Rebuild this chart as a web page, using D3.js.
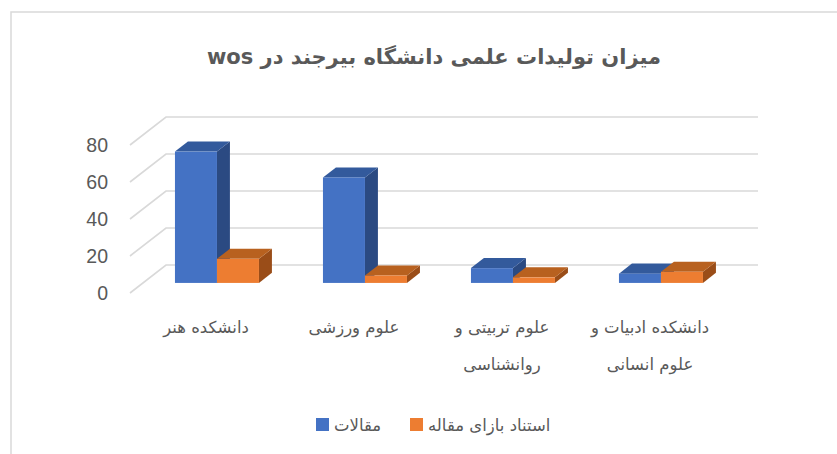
<!DOCTYPE html>
<html>
<head>
<meta charset="utf-8">
<script src="https://cdn.jsdelivr.net/npm/d3@7"></script>
<style>
  body { margin: 0; background: #fff; }
  svg { display: block; }
</style>
</head>
<body>
<script>
// 3D clustered column chart - WOS output per faculty

const categories = ["دانشکده هنر", "علوم ورزشی", "علوم تربیتی و روانشناسی", "دانشکده ادبیات و علوم انسانی"];
// how each label is wrapped on the axis
const categoryLines = [["دانشکده هنر"], ["علوم ورزشی"], ["علوم تربیتی و", "روانشناسی"], ["دانشکده ادبیات و", "علوم انسانی"]];
const seriesNames = ["مقالات", "استناد بازای مقاله"];
const articles = [71, 57, 8, 5];
const citations = [13, 4, 3, 6];
const yTicks = [0, 20, 40, 60, 80];

const width = 837, height = 454;
const grey = "#595959";
const gridColor = "#d9d9d9";

// front plane of the plot
const plot = {left: 130, right: 722, top: 145, bottom: 293};
// offset of the back wall (oblique projection)
const wall = {dx: 36, dy: -28};
const off = d => [wall.dx * d, wall.dy * d];
const barFront = 0.36, barBack = 0.72;

const svg = d3.select("body").append("svg")
    .attr("width", width)
    .attr("height", height);

// chart border
svg.append("rect")
    .attr("x", 11).attr("y", 12)
    .attr("width", width + 20).attr("height", height + 20)
    .attr("fill", "#fff")
    .attr("stroke", gridColor)
    .attr("stroke-width", 1.5);

const y = d3.scaleLinear().domain([0, 80]).range([plot.bottom, plot.top]);
const x = d3.scaleBand().domain(categories).range([plot.left, plot.right]);

// gridlines: floor diagonal + back wall
const grid = svg.append("g").attr("stroke", gridColor).attr("stroke-width", 1.6).attr("fill", "none");
yTicks.forEach(t => {
  grid.append("path").attr("d", d3.line()([
    [plot.left, y(t)],
    [plot.left + wall.dx, y(t) + wall.dy],
    [plot.right + wall.dx, y(t) + wall.dy]
  ]));
});

// y axis labels
svg.append("g").selectAll("text")
  .data(yTicks)
  .join("text")
    .attr("x", 108)
    .attr("y", d => y(d))
    .attr("dy", "0.36em")
    .attr("text-anchor", "end")
    .attr("fill", grey)
    .style("font-family", "'Liberation Sans', Arial, sans-serif")
    .style("font-size", "19.5px")
    .text(d => d);

// bars
const barW = 42;
const colors = [
  {front: "#4472C4", top: "#335a9c", side: "#2b4a82"},
  {front: "#ED7D31", top: "#b8611f", side: "#9a4d18"}
];
const seriesData = [articles, citations];

const bars = svg.append("g");
categories.forEach((c, i) => {
  const cx = x(c) + x.bandwidth() / 2;
  seriesData.forEach((vals, s) => {
    const v = vals[i];
    const [fx, fy] = off(barFront);
    const [bx, by] = off(barBack);
    const ddx = bx - fx, ddy = by - fy;
    const x0 = cx - barW + s * barW + fx;
    const x1 = x0 + barW;
    const yTop = y(v) + fy;
    const yBase = y(0) + fy;
    const col = colors[s];
    // side face
    bars.append("path")
      .attr("d", d3.line()([[x1, yBase], [x1 + ddx, yBase + ddy], [x1 + ddx, yTop + ddy], [x1, yTop]]) + "Z")
      .attr("fill", col.side);
    // top face
    bars.append("path")
      .attr("d", d3.line()([[x0, yTop], [x0 + ddx, yTop + ddy], [x1 + ddx, yTop + ddy], [x1, yTop]]) + "Z")
      .attr("fill", col.top);
    // front face
    bars.append("rect")
      .attr("x", x0).attr("y", yTop)
      .attr("width", barW).attr("height", yBase - yTop)
      .attr("fill", col.front);
  });
});

// category labels
const catG = svg.append("g")
    .style("font-family", "'DejaVu Sans', sans-serif")
    .style("font-size", "16.5px")
    .attr("fill", grey);
categories.forEach((c, i) => {
  categoryLines[i].forEach((line, j) => {
    catG.append("text")
      .attr("x", x(c) + x.bandwidth() / 2 + 2)
      .attr("y", 333 + j * 37)
      .attr("text-anchor", "middle")
      .text(line);
  });
});

// title
svg.append("text")
    .attr("x", 434)
    .attr("y", 64)
    .attr("text-anchor", "middle")
    .attr("direction", "rtl")
    .attr("fill", grey)
    .style("font-family", "'DejaVu Sans', sans-serif")
    .style("font-size", "21px")
    .style("font-weight", "bold")
    .text("میزان تولیدات علمی دانشگاه بیرجند در wos");

// legend
const legend = [
  {name: seriesNames[0], color: colors[0].front, sx: 316, tx: 334},
  {name: seriesNames[1], color: colors[1].front, sx: 410, tx: 428}
];
legend.forEach(l => {
  svg.append("rect")
    .attr("x", l.sx).attr("y", 418)
    .attr("width", 13).attr("height", 13)
    .attr("fill", l.color);
  svg.append("text")
    .attr("x", l.tx).attr("y", 431)
    .attr("fill", grey)
    .style("font-family", "'DejaVu Sans', sans-serif")
    .style("font-size", "16.5px")
    .text(l.name);
});
</script>
</body>
</html>
